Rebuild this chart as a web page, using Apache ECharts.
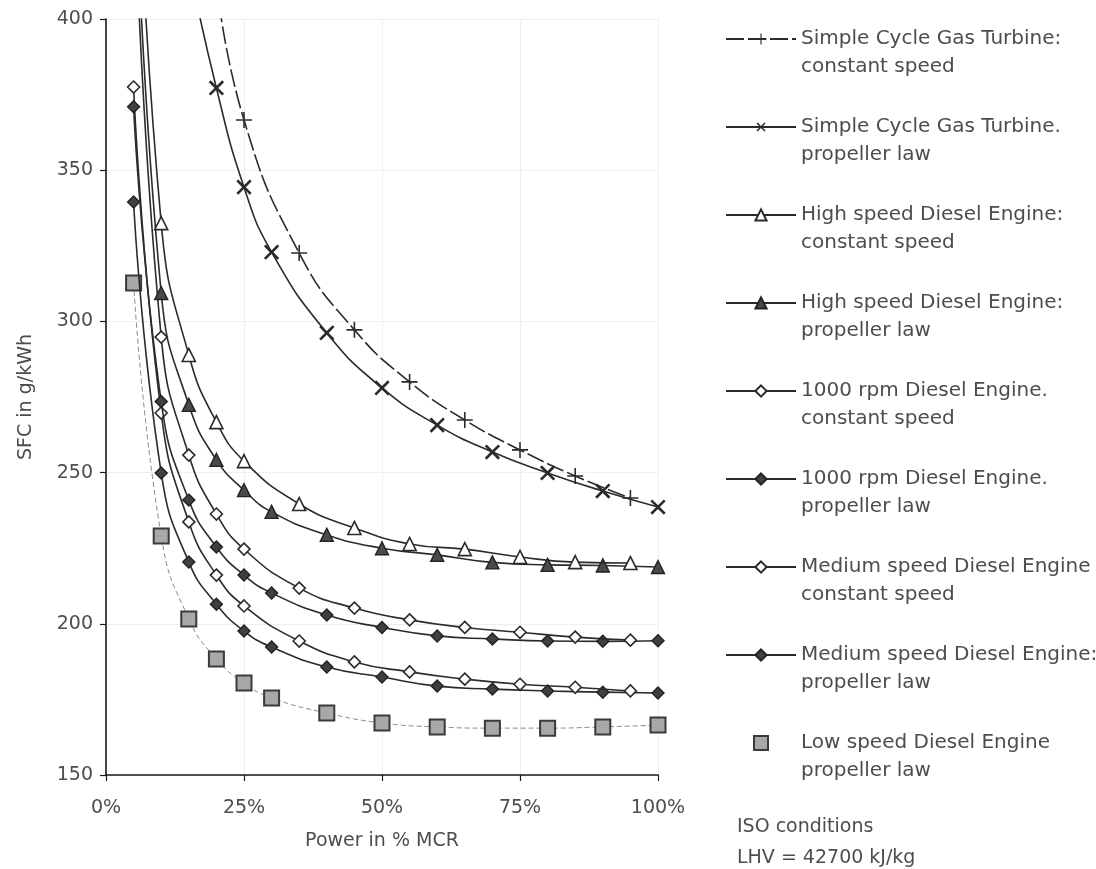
<!DOCTYPE html>
<html>
<head>
<meta charset="utf-8">
<script src="https://cdn.jsdelivr.net/npm/echarts@6/dist/echarts.min.js"></script>
<style>
  html, body { margin: 0; padding: 0; background: #ffffff; }
  #chart { width: 1096px; height: 869px; }
</style>
</head>
<body>
<div id="chart"></div>
<script>
// Specific fuel consumption (g/kWh) versus load (% MCR) for marine prime movers.
// Points above 400 g/kWh lie off the top of the plot; they only steer the curves out of view.

const seriesNames = [
  'Simple Cycle Gas Turbine:\nconstant speed',
  'Simple Cycle Gas Turbine.\npropeller law',
  'High speed Diesel Engine:\nconstant speed',
  'High speed Diesel Engine:\npropeller law',
  '1000 rpm Diesel Engine.\nconstant speed',
  '1000 rpm Diesel Engine.\npropeller law',
  'Medium speed Diesel Engine\nconstant speed',
  'Medium speed Diesel Engine:\npropeller law',
  'Low speed Diesel Engine\npropeller law'
];

const gasConstPower = [20, 25, 35, 45, 55, 65, 75, 85, 95];
const gasConstSfc   = [412, 366.6, 322.6, 297.2, 280, 267.4, 257.5, 248.9, 241.6];

const gasPropPower = [15, 20, 25, 30, 40, 50, 60, 70, 80, 90, 100];
const gasPropSfc   = [418, 377.2, 344.4, 322.9, 296.2, 278, 265.7, 256.8, 249.9, 243.9, 238.6];

const hsConstPower = [5, 10, 15, 20, 25, 35, 45, 55, 65, 75, 85, 95];
const hsConstSfc   = [490, 332.5, 288.9, 266.7, 253.8, 239.6, 231.7, 226.4, 224.7, 222.1, 220.4, 220.1];

const hsPropPower = [5, 10, 15, 20, 25, 30, 40, 50, 60, 70, 80, 90, 100];
const hsPropSfc   = [465, 309.4, 272.4, 254.2, 244.2, 237, 229.4, 225, 222.8, 220.3, 219.5, 219.3, 218.8];

const rpmConstPower = [5, 10, 15, 20, 25, 35, 45, 55, 65, 75, 85, 95];
const rpmConstSfc   = [450, 294.8, 255.8, 236.3, 224.7, 211.8, 205.2, 201.3, 198.8, 197.2, 195.6, 194.6];

const rpmPropPower = [5, 10, 15, 20, 25, 30, 40, 50, 60, 70, 80, 90, 100];
const rpmPropSfc   = [371, 273.5, 240.9, 225.4, 216.1, 210.2, 202.9, 198.8, 196, 195, 194.3, 194.2, 194.4];

const msConstPower = [5, 10, 15, 20, 25, 35, 45, 55, 65, 75, 85, 95];
const msConstSfc   = [377.5, 269.7, 233.7, 216.1, 205.9, 194.3, 187.4, 184.1, 181.7, 180, 179, 177.8];

const msPropPower = [5, 10, 15, 20, 25, 30, 40, 50, 60, 70, 80, 90, 100];
const msPropSfc   = [339.5, 249.9, 220.4, 206.5, 197.6, 192.3, 185.7, 182.4, 179.4, 178.4, 177.8, 177.4, 177.1];

const lsPropPower = [5, 10, 15, 20, 25, 30, 40, 50, 60, 70, 80, 90, 100];
const lsPropSfc   = [312.7, 229, 201.6, 188.4, 180.4, 175.5, 170.5, 167.2, 165.9, 165.5, 165.5, 165.9, 166.5];

const powerTicks = [0, 25, 50, 75, 100];
const sfcMin = 150, sfcMax = 400, sfcStep = 50;

const isoNote = ['ISO conditions', 'LHV = 42700 kJ/kg'];

// Marker shapes
const PLUS = 'path://M9,0H11V9H20V11H11V20H9V11H0V9H9Z';
const CROSS = 'path://M8.6,0H11.4V8.6H20V11.4H11.4V20H8.6V11.4H0V8.6H8.6Z';
const SQUARE = 'path://M0,0H10V10H0Z';

const FONT = 'DejaVu Sans';
const TEXT = '#4d4d4d';
const INK = '#2b2b2b';

function points(xs, ys) {
  return xs.map((x, i) => {
    const item = { value: [x, ys[i]] };
    if (ys[i] > sfcMax) item.symbol = 'none';
    return item;
  });
}

const styles = [
  { x: gasConstPower, y: gasConstSfc, symbol: PLUS, size: 16, rotate: 0, fill: INK, border: INK, bw: 0, line: [18, 4] },
  { x: gasPropPower, y: gasPropSfc, symbol: CROSS, size: 19, rotate: 45, fill: INK, border: INK, bw: 0, line: 'solid' },
  { x: hsConstPower, y: hsConstSfc, symbol: 'triangle', size: 13, rotate: 0, fill: '#ffffff', border: INK, bw: 1.6, line: 'solid' },
  { x: hsPropPower, y: hsPropSfc, symbol: 'triangle', size: 13, rotate: 0, fill: '#4a4a4a', border: '#222', bw: 1.4, line: 'solid' },
  { x: rpmConstPower, y: rpmConstSfc, symbol: 'diamond', size: 12, rotate: 0, fill: '#ffffff', border: INK, bw: 1.6, line: 'solid' },
  { x: rpmPropPower, y: rpmPropSfc, symbol: 'diamond', size: 12, rotate: 0, fill: '#3f3f3f', border: '#222', bw: 1.4, line: 'solid' },
  { x: msConstPower, y: msConstSfc, symbol: 'diamond', size: 12, rotate: 0, fill: '#ffffff', border: INK, bw: 1.6, line: 'solid' },
  { x: msPropPower, y: msPropSfc, symbol: 'diamond', size: 12, rotate: 0, fill: '#3f3f3f', border: '#222', bw: 1.4, line: 'solid' },
  { x: lsPropPower, y: lsPropSfc, symbol: 'rect', size: 15, rotate: 0, fill: '#a8a8a8', border: '#3a3a3a', bw: 2, line: [5, 3] }
];

const series = styles.map((s, i) => ({
  name: seriesNames[i],
  type: 'line',
  data: points(s.x, s.y),
  smooth: 0.5,
  clip: true,
  symbol: s.symbol,
  symbolSize: s.size,
  symbolRotate: s.rotate,
  symbolKeepAspect: true,
  showAllSymbol: true,
  lineStyle: i === 8
    ? { color: '#8a8a8a', width: 1, type: s.line }
    : { color: INK, width: 1.6, type: s.line },
  itemStyle: { color: s.fill, borderColor: s.border, borderWidth: s.bw, opacity: 1 },
  emphasis: { disabled: true },
  z: 10 - i
}));

const chart = echarts.init(document.getElementById('chart'), null, { renderer: 'canvas' });

chart.setOption({
  animation: false,
  backgroundColor: '#ffffff',
  textStyle: { fontFamily: FONT, color: TEXT },
  grid: { left: 106, right: 438, top: 19, bottom: 94, containLabel: false },
  xAxis: {
    type: 'value',
    min: powerTicks[0],
    max: powerTicks[powerTicks.length - 1],
    interval: powerTicks[1] - powerTicks[0],
    name: 'Power in % MCR',
    nameLocation: 'middle',
    nameGap: 57,
    nameTextStyle: { fontFamily: FONT, fontSize: 19, color: TEXT },
    axisLine: { show: true, onZero: false, lineStyle: { color: '#1a1a1a', width: 1.6 } },
    axisTick: { show: true, length: 6, lineStyle: { color: '#1a1a1a', width: 1.2 } },
    axisLabel: { fontFamily: FONT, fontSize: 19, color: TEXT, margin: 24, formatter: '{value}%' },
    splitLine: { show: true, lineStyle: { color: '#efefef', width: 1 } }
  },
  yAxis: {
    type: 'value',
    min: sfcMin,
    max: sfcMax,
    interval: sfcStep,
    name: 'SFC in g/kWh',
    nameLocation: 'middle',
    nameGap: 70,
    nameTextStyle: { fontFamily: FONT, fontSize: 19, color: TEXT },
    axisLine: { show: true, onZero: false, lineStyle: { color: '#1a1a1a', width: 1.6 } },
    axisTick: { show: true, length: 6, lineStyle: { color: '#1a1a1a', width: 1.2 } },
    axisLabel: { fontFamily: FONT, fontSize: 19, color: TEXT, margin: 13 },
    splitLine: { show: true, lineStyle: { color: '#efefef', width: 1 } }
  },
  legend: {
    orient: 'vertical',
    left: 725,
    top: -3,
    padding: 0,
    itemWidth: 70,
    itemHeight: 14,
    itemGap: 4,
    selectedMode: false,
    data: seriesNames.map((n, i) => i === 8 ? { name: n, icon: SQUARE } : { name: n }),
    formatter: name => '\n' + name,
    textStyle: { fontFamily: FONT, fontSize: 20, color: TEXT, lineHeight: 28 }
  },
  graphic: [{
    type: 'text',
    left: 737,
    top: 812,
    style: {
      text: isoNote.join('\n'),
      font: '19px "DejaVu Sans"',
      fill: TEXT,
      lineHeight: 31
    }
  }],
  series: series
});
</script>
</body>
</html>
